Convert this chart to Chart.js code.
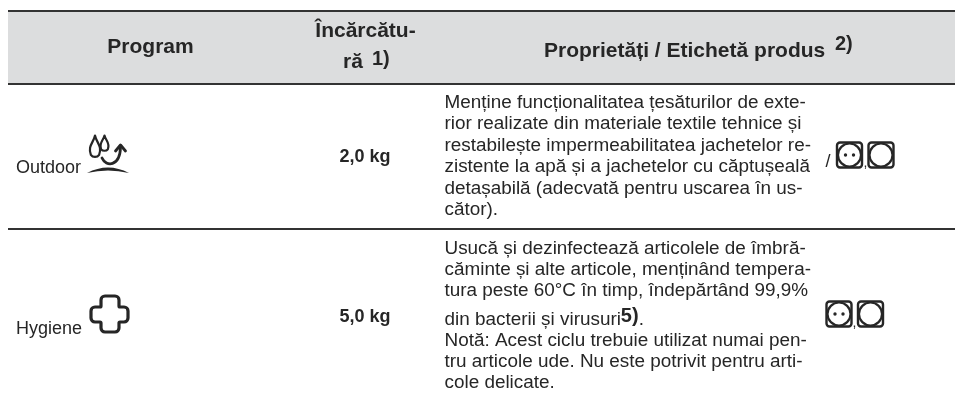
<!DOCTYPE html>
<html>
<head>
<meta charset="utf-8">
<style>
    html, body { margin: 0; padding: 0; background: #fff; }
    #wrap { position: relative; width: 955px; height: 397px; }
</style>
<script src="https://cdn.jsdelivr.net/npm/chart.js@4"></script>
</head>
<body>
<div id="wrap"><canvas id="chart_table"></canvas></div>
<script>
// DATA
var head_program = 'Program';
var head_load = ['Încărcătu-', 'ră'];
var head_load_note = '1)';
var head_props = 'Proprietăți / Etichetă produs';
var head_props_note = '2)';

var programs = ['Outdoor', 'Hygiene'];
var loads = ['2,0 kg', '5,0 kg'];

var props_outdoor = [
    'Menține funcționalitatea țesăturilor de exte-',
    'rior realizate din materiale textile tehnice și',
    'restabilește impermeabilitatea jachetelor re-',
    'zistente la apă și a jachetelor cu căptușeală',
    'detașabilă (adecvată pentru uscarea în us-',
    'cător).'
];
var props_hygiene = [
    'Usucă și dezinfectează articolele de îmbră-',
    'căminte și alte articole, menținând tempera-',
    'tura peste 60°C în timp, îndepărtând 99,9%',
    'din bacterii și virusuri',
    'Notă: Acest ciclu trebuie utilizat numai pen-',
    'tru articole ude. Nu este potrivit pentru arti-',
    'cole delicate.'
];
var hygiene_note = '5)';

// LAYOUT
var rule_y = [11, 84, 229];
var base_outdoor = [108, 129, 150.5, 172, 193.5, 215];
var base_hygiene = [253.5, 274.5, 296, 325, 346, 367, 388];
var FAMILY = '"Liberation Sans", Arial, sans-serif';
var DARK = '#262626';
var BODY = '18.9px';

function drawText(c, _t, _x, _y, _font, _align) {
    c.font = _font + ' ' + FAMILY;
    c.textAlign = _align || 'left';
    c.textBaseline = 'alphabetic';
    c.fillStyle = DARK;
    c.fillText(_t, _x, _y);
}

function drawDrop(c, _x, _y, _w, _h) {
    c.beginPath();
    c.moveTo(_x, _y);
    c.bezierCurveTo(_x + _w * 0.2, _y + _h * 0.35, _x + _w, _y + _h * 0.5, _x + _w * 0.55, _y + _h * 0.92);
    c.bezierCurveTo(_x + _w * 0.3, _y + _h * 1.05, _x - _w * 0.3, _y + _h * 1.05, _x - _w * 0.55, _y + _h * 0.92);
    c.bezierCurveTo(_x - _w, _y + _h * 0.5, _x - _w * 0.2, _y + _h * 0.35, _x, _y);
    c.closePath();
}

function drawOutdoorIcon(c, X, Y) {
    c.strokeStyle = DARK;
    c.lineWidth = 2.2;
    c.lineJoin = 'round';
    c.lineCap = 'round';
    c.fillStyle = '#fff';
    drawDrop(c, X(104.5), Y(135.5), 6, 15);
    c.fill();
    c.stroke();
    drawDrop(c, X(95), Y(135.5), 7.5, 21);
    c.fill();
    c.stroke();

    // arrow
    c.lineWidth = 2.8;
    c.beginPath();
    c.moveTo(X(102), Y(158));
    c.bezierCurveTo(X(106), Y(167), X(120), Y(167), X(120.5), Y(147));
    c.stroke();
    c.beginPath();
    c.moveTo(X(115.5), Y(151));
    c.lineTo(X(120.5), Y(145));
    c.lineTo(X(125.5), Y(151));
    c.stroke();

    // ground
    c.fillStyle = DARK;
    c.beginPath();
    c.moveTo(X(87), Y(173));
    c.quadraticCurveTo(X(108), Y(162), X(129), Y(173));
    c.quadraticCurveTo(X(108), Y(168), X(87), Y(173));
    c.closePath();
    c.fill();
}

function drawCrossIcon(c, X, Y) {
    c.strokeStyle = DARK;
    c.lineWidth = 3.2;
    c.lineJoin = 'round';
    // x, y, corner radius
    var pts = [
        [119, 296, 4], [119, 307, 1], [128, 307, 4], [128, 322, 4], [119, 322, 1], [119, 332, 4],
        [101, 332, 4], [101, 322, 1], [91, 322, 4], [91, 307, 4], [101, 307, 1], [101, 296, 4]
    ];
    c.beginPath();
    c.moveTo(X(110), Y(296));
    pts.forEach((p, i) => {
        let next = pts[(i + 1) % pts.length];
        c.arcTo(X(p[0]), Y(p[1]), X(next[0]), Y(next[1]), p[2]);
    });
    c.closePath();
    c.stroke();
}

function drawDryerIcon(c, X, Y, _x, _y, _size, _dots) {
    let x0 = X(_x), y0 = Y(_y), cx = x0 + _size / 2, cy = y0 + _size / 2;
    c.strokeStyle = DARK;
    c.lineWidth = 2.4;
    c.beginPath();
    c.roundRect(x0, y0, _size, _size, 3);
    c.stroke();
    c.lineWidth = 2.2;
    c.beginPath();
    c.arc(cx, cy, _size / 2 - 1, 0, Math.PI * 2);
    c.stroke();
    if(_dots) {
        c.fillStyle = DARK;
        [-4, 4].forEach((d) => {
            c.beginPath();
            c.arc(cx + d, cy, 1.7, 0, Math.PI * 2);
            c.fill();
        });
    }
}

var tablePlugin = {
    id: 'tableText',
    beforeDatasetsDraw(chart) {
        let c = chart.ctx, xs = chart.scales.x, ys = chart.scales.y;
        // header band goes under the rules
        c.save();
        c.globalCompositeOperation = 'destination-over';
        c.fillStyle = '#dcddde';
        c.fillRect(xs.getPixelForValue(8), ys.getPixelForValue(rule_y[0]), xs.width, ys.getPixelForValue(rule_y[1]) - ys.getPixelForValue(rule_y[0]));
        c.restore();
    },
    afterDraw(chart) {
        let c = chart.ctx, xs = chart.scales.x, ys = chart.scales.y;
        let X = (v) => xs.getPixelForValue(v), Y = (v) => ys.getPixelForValue(v);
        c.save();

        // header
        drawText(c, head_program, X(150.5), Y(53), 'bold 21px', 'center');
        drawText(c, head_load[0], X(365.5), Y(37), 'bold 21px', 'center');
        drawText(c, head_load[1], X(343), Y(68), 'bold 21px');
        drawText(c, head_load_note, X(372), Y(65), 'bold 20px');
        drawText(c, head_props, X(544), Y(57), 'bold 21px');
        drawText(c, head_props_note, X(835), Y(49.5), 'bold 20px');

        // first two columns
        drawText(c, programs[0], X(16), Y(173), '18px');
        drawText(c, programs[1], X(16), Y(333.5), '18px');
        drawText(c, loads[0], X(365), Y(162), 'bold 18px', 'center');
        drawText(c, loads[1], X(365), Y(322), 'bold 18px', 'center');
        drawOutdoorIcon(c, X, Y);
        drawCrossIcon(c, X, Y);

        // descriptions
        props_outdoor.forEach((t, i) => {
            drawText(c, t, X(444.5), Y(base_outdoor[i]), BODY);
        });
        props_hygiene.forEach((t, i) => {
            drawText(c, t, X(444.5), Y(base_hygiene[i]), BODY);
        });
        c.font = BODY + ' ' + FAMILY;
        let w = c.measureText(props_hygiene[3]).width;
        drawText(c, hygiene_note, X(444.5) + w, Y(322), 'bold 20px');
        let nw = c.measureText(hygiene_note).width;
        drawText(c, '.', X(444.5) + w + nw, Y(325), BODY);

        // care symbols
        drawText(c, '/', X(825.5), Y(167), '18px');
        drawDryerIcon(c, X, Y, 837, 142.5, 25, true);
        drawText(c, ',', X(863.5), Y(167), '14px');
        drawDryerIcon(c, X, Y, 868.5, 142.5, 25, false);
        drawDryerIcon(c, X, Y, 826.5, 301.5, 25, true);
        drawText(c, ',', X(852.5), Y(327), '14px');
        drawDryerIcon(c, X, Y, 858, 301.5, 25, false);

        c.restore();
    }
};

function drawTable() {
    new Chart(document.getElementById('chart_table').getContext('2d'), {
        type: 'scatter',
        data: { datasets: [{ data: [] }] },
        plugins: [tablePlugin],
        options: {
            responsive: true,
            maintainAspectRatio: false,
            animation: false,
            layout: { padding: { left: 8, right: 0, top: 0, bottom: 0 } },
            plugins: { legend: { display: false }, tooltip: { enabled: false }, title: { display: false } },
            scales: {
                x: { type: 'linear', display: false, min: 8, max: 955 },
                y: {
                    type: 'linear',
                    reverse: true,
                    min: 0,
                    max: 397,
                    afterBuildTicks: (axis) => { axis.ticks = rule_y.map((v) => ({ value: v })); },
                    afterFit: (axis) => { axis.width = 0; },
                    ticks: { display: false, autoSkip: false },
                    border: { display: false },
                    grid: { color: '#333333', lineWidth: 2, drawTicks: false }
                }
            }
        }
    });
}

drawTable();
</script>
</body>
</html>
